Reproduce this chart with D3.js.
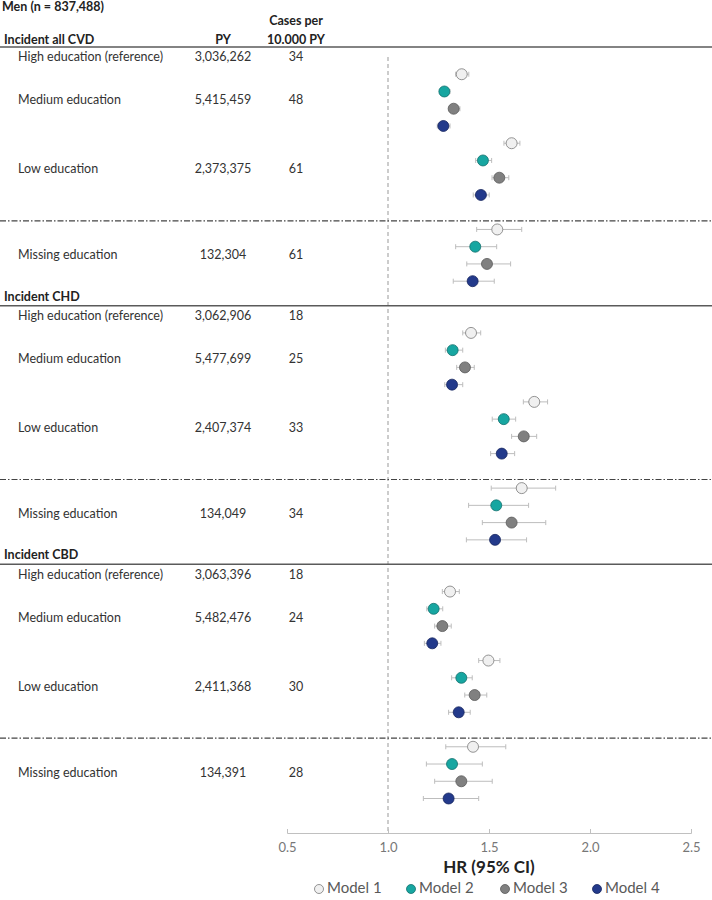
<!DOCTYPE html>
<html>
<head>
<meta charset="utf-8">
<script src="https://cdn.jsdelivr.net/npm/d3@7"></script>
<style>
  body { margin: 0; background: #fff; }
  svg { display: block; font-family: Lato, "Noto Sans", sans-serif; }
</style>
</head>
<body>
<svg id="chart" width="712" height="900"></svg>
<script>
// outcomes, groups, models
const outcomes = ["Incident all CVD", "Incident CHD", "Incident CBD"];
const groups = ["High education (reference)", "Medium education", "Low education", "Missing education"];
const models = ["Model 1", "Model 2", "Model 3", "Model 4"];

// person-years and cases per 10.000 PY (rows = outcome, cols = group)
const personYears = [
    ["3,036,262", "5,415,459", "2,373,375", "132,304"],
    ["3,062,906", "5,477,699", "2,407,374", "134,049"],
    ["3,063,396", "5,482,476", "2,411,368", "134,391"]
];
const casesPer10k = [
    [34, 48, 61, 61],
    [18, 25, 33, 34],
    [18, 24, 30, 28]
];

// hazard ratios: [outcome][group: medium, low, missing][model]
const hrEst = [
    [[1.365, 1.279, 1.325, 1.274], [1.612, 1.470, 1.551, 1.460], [1.541, 1.432, 1.490, 1.419]],
    [[1.411, 1.320, 1.381, 1.317], [1.724, 1.573, 1.672, 1.563], [1.662, 1.536, 1.612, 1.530]],
    [[1.307, 1.226, 1.269, 1.219], [1.497, 1.363, 1.429, 1.350], [1.421, 1.317, 1.363, 1.300]]
];
const hrLower = [
    [[1.335, 1.257, 1.303, 1.244], [1.574, 1.434, 1.515, 1.422], [1.439, 1.335, 1.390, 1.323]],
    [[1.370, 1.284, 1.340, 1.281], [1.670, 1.516, 1.612, 1.508], [1.511, 1.399, 1.467, 1.388]],
    [[1.269, 1.192, 1.231, 1.180], [1.449, 1.315, 1.380, 1.300], [1.286, 1.190, 1.231, 1.175]]
];
const hrUpper = [
    [[1.400, 1.307, 1.356, 1.307], [1.653, 1.513, 1.598, 1.501], [1.662, 1.538, 1.607, 1.526]],
    [[1.459, 1.370, 1.427, 1.370], [1.790, 1.632, 1.736, 1.627], [1.830, 1.696, 1.781, 1.686]],
    [[1.353, 1.271, 1.313, 1.262], [1.554, 1.417, 1.489, 1.407], [1.583, 1.467, 1.516, 1.449]]
];

const xTicks = [0.5, 1.0, 1.5, 2.0, 2.5];
const modelFill = ["#f0f0f0", "#17a6a1", "#808080", "#233a8b"];
const modelStroke = ["#7a7a7a", "#11706d", "#5a5a5a", "#17265e"];

const svg = d3.select("#chart");

// x: HR scale, y: row slot scale (15 slots per outcome block)
const x = d3.scaleLinear().domain([0.5, 2.5]).range([287, 691]);
const y = d3.scaleLinear().domain([0, 45]).range([57, 833]);

const colLabel = 18, colPY = 223, colCases = 296;

// 그룹별 slot 위치 (label slot, first point slot)
const groupLabelSlot = [0, 2.5, 6.5, 11.5];
const groupPointSlot = [null, 1, 5, 10];

// 굵은 텍스트 도우미
function boldText(tx, ty, str, anchor) {
    svg.append("text")
        .attr("x", tx).attr("y", ty)
        .attr("text-anchor", anchor || "start")
        .attr("dominant-baseline", "middle")
        .style("font-size", "12.5px").style("font-weight", "bold").style("fill", "#222")
        .text(str);
}

// title and column headers
boldText(2, 8, "Men (n = 837,488)");
boldText(colCases, 22, "Cases per", "middle");
boldText(colCases, 41, "10.000 PY", "middle");
boldText(colPY, 41, "PY", "middle");

// reference line at HR = 1
svg.append("line")
    .attr("x1", x(1)).attr("x2", x(1))
    .attr("y1", y(0)).attr("y2", y(45))
    .attr("stroke", "#999").attr("stroke-width", 1)
    .attr("stroke-dasharray", "4,3");

outcomes.forEach((outcome, s) => {
    const base = s * 15;

    boldText(4, s > 0 ? y(base - 1.05) : 41, outcome);

    // solid separator under header
    svg.append("line")
        .attr("x1", 0).attr("x2", 712)
        .attr("y1", y(base - 0.58)).attr("y2", y(base - 0.58))
        .attr("stroke", "#5a5a5a").attr("stroke-width", 1.5);

    // dash-dot separator before missing education
    svg.append("line")
        .attr("x1", 0).attr("x2", 712)
        .attr("y1", y(base + 9.5)).attr("y2", y(base + 9.5))
        .attr("stroke", "#444").attr("stroke-width", 1.2)
        .attr("stroke-dasharray", "6,2,1.5,2");

    groups.forEach((g, gi) => {
        const ly = y(base + groupLabelSlot[gi]) + 1;
        svg.append("text").attr("x", colLabel).attr("y", ly)
            .attr("dominant-baseline", "middle")
            .style("font-size", "12.5px").style("fill", "#333")
            .text(g);
        svg.append("text").attr("x", colPY).attr("y", ly)
            .attr("text-anchor", "middle").attr("dominant-baseline", "middle")
            .style("font-size", "12.5px").style("fill", "#333")
            .text(personYears[s][gi]);
        svg.append("text").attr("x", colCases).attr("y", ly)
            .attr("text-anchor", "middle").attr("dominant-baseline", "middle")
            .style("font-size", "12.5px").style("fill", "#333")
            .text(casesPer10k[s][gi]);

        if (gi === 0) return;

        const rows = models.map((m, mi) => ({
            model: mi,
            est: hrEst[s][gi - 1][mi],
            lo: hrLower[s][gi - 1][mi],
            hi: hrUpper[s][gi - 1][mi],
            cy: y(base + groupPointSlot[gi] + mi)
        }));

        const grp = svg.append("g");

        // CI lines
        grp.selectAll(".ci")
            .data(rows).enter().append("line")
            .attr("x1", d => x(d.lo)).attr("x2", d => x(d.hi))
            .attr("y1", d => d.cy).attr("y2", d => d.cy)
            .attr("stroke", "#bdbdbd").attr("stroke-width", 1);
        grp.selectAll(".capl")
            .data(rows).enter().append("line")
            .attr("x1", d => x(d.lo)).attr("x2", d => x(d.lo))
            .attr("y1", d => d.cy - 2.5).attr("y2", d => d.cy + 2.5)
            .attr("stroke", "#bdbdbd").attr("stroke-width", 1);
        grp.selectAll(".capr")
            .data(rows).enter().append("line")
            .attr("x1", d => x(d.hi)).attr("x2", d => x(d.hi))
            .attr("y1", d => d.cy - 2.5).attr("y2", d => d.cy + 2.5)
            .attr("stroke", "#bdbdbd").attr("stroke-width", 1);

        // points
        grp.selectAll("circle")
            .data(rows).enter().append("circle")
            .attr("cx", d => x(d.est)).attr("cy", d => d.cy)
            .attr("r", 5.5)
            .attr("fill", d => modelFill[d.model])
            .attr("stroke", d => modelStroke[d.model])
            .attr("stroke-width", 0.8);
    });
});

// x axis
const axisY = y(45);
const axis = svg.append("g")
    .attr("transform", `translate(0,${axisY})`)
    .call(d3.axisTop(x).tickValues(xTicks).tickSize(4).tickFormat(d3.format(".1f")));
axis.select(".domain").attr("stroke", "#c0c0c0");
axis.selectAll(".tick line").attr("stroke", "#c0c0c0");
axis.selectAll(".tick text")
    .attr("y", 16).attr("dy", 0)
    .attr("dominant-baseline", "middle")
    .style("font-size", "13px").style("fill", "#777")
    .style("font-family", "Lato, 'Noto Sans', sans-serif");

svg.append("text")
    .attr("x", x(1.5)).attr("y", 869)
    .attr("text-anchor", "middle").attr("dominant-baseline", "middle")
    .style("font-size", "17px").style("font-weight", "bold").style("fill", "#222")
    .text("HR (95% CI)");

// legend
const legendX = [319, 411, 505, 597];
const legend = svg.selectAll(".legend")
    .data(models).enter().append("g")
    .attr("transform", (d, i) => `translate(${legendX[i]},889)`);
legend.append("circle")
    .attr("r", 4.5)
    .attr("fill", (d, i) => modelFill[i])
    .attr("stroke", (d, i) => modelStroke[i])
    .attr("stroke-width", 0.8);
legend.append("text")
    .attr("x", 8).attr("dominant-baseline", "middle")
    .style("font-size", "15px").style("fill", "#595959")
    .text(d => d);
</script>
</body>
</html>
